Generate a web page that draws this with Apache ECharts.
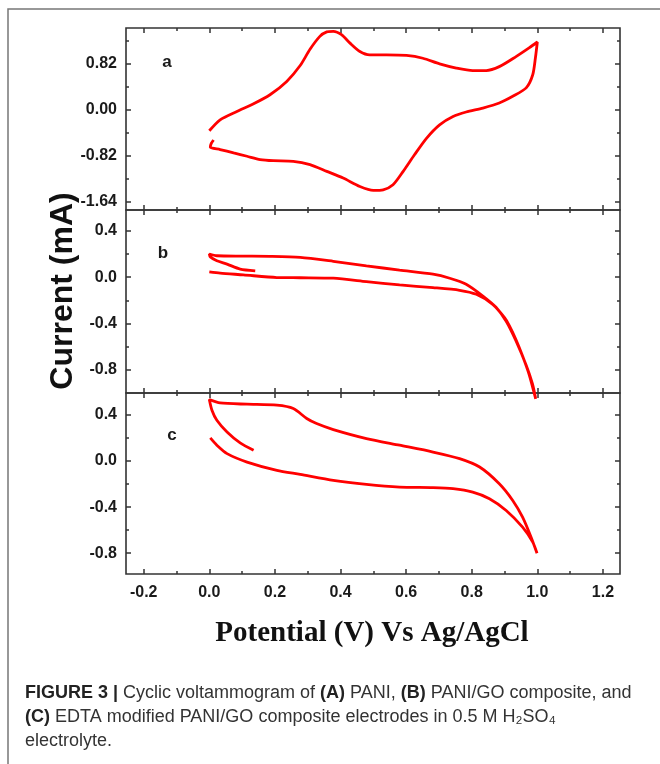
<!DOCTYPE html>
<html>
<head>
<meta charset="utf-8">
<script src="https://cdn.jsdelivr.net/npm/echarts@6/dist/echarts.min.js"></script>
<style>
html,body{margin:0;padding:0;background:#fff;}
#chart{width:660px;height:764px;}
</style>
</head>
<body>
<div id="chart"></div>
<script>
// ---------- data ----------
const xTicks = [-0.2, 0.0, 0.2, 0.4, 0.6, 0.8, 1.0, 1.2];
const xMinor = [-0.1, 0.1, 0.3, 0.5, 0.7, 0.9, 1.1];
const xRange = [-0.254, 1.252];

const yTicksA = [-1.64, -0.82, 0.0, 0.82];
const yMinorA = [-1.23, -0.41, 0.41, 1.23];
const yRangeA = [-1.79, 1.46];

const yTicksB = [-0.8, -0.4, 0.0, 0.4];
const yMinorB = [-0.6, -0.2, 0.2];
const yRangeB = [-1.0, 0.58];

const yTicksC = [-0.8, -0.4, 0.0, 0.4];
const yMinorC = [-0.6, -0.2, 0.2];
const yRangeC = [-0.98, 0.59];

// Panel a: PANI
const potA = [0, 0.033, 0.084, 0.135, 0.185, 0.236, 0.277, 0.307, 0.337, 0.358, 0.378, 0.403, 0.429, 0.459, 0.489, 0.54, 0.601, 0.651, 0.702, 0.753, 0.803, 0.844, 0.884, 0.935, 0.976, 1.0,
  0.994, 0.986, 0.966, 0.925, 0.884, 0.834, 0.783, 0.743, 0.702, 0.662, 0.626, 0.591, 0.56, 0.53, 0.5, 0.459, 0.408, 0.358, 0.307, 0.256, 0.195, 0.155, 0.115, 0.074, 0.033, 0.003, 0.006, 0.013];
const curA = [-0.375, -0.179, -0.03, 0.107, 0.268, 0.506, 0.79, 1.08, 1.31, 1.39, 1.40, 1.34, 1.19, 1.04, 0.98, 0.98, 0.97, 0.92, 0.82, 0.745, 0.70, 0.70, 0.77, 0.95, 1.11, 1.21,
  0.92, 0.625, 0.39, 0.24, 0.12, 0.03, -0.04, -0.12, -0.27, -0.51, -0.80, -1.10, -1.34, -1.43, -1.44, -1.37, -1.22, -1.10, -0.98, -0.92, -0.91, -0.89, -0.83, -0.77, -0.71, -0.67, -0.60, -0.54];

// Panel b: PANI/GO
const potB = [0.14, 0.094, 0.054, 0.023, 0.003, 0, 0.023, 0.1, 0.185, 0.277, 0.378, 0.479, 0.58, 0.682, 0.733, 0.783, 0.834, 0.874, 0.905, 0.935, 0.966, 0.985, 0.995,
  0.975, 0.955, 0.935, 0.915, 0.9, 0.864, 0.814, 0.763, 0.682, 0.58, 0.479, 0.378, 0.277, 0.206, 0.104, 0.033, 0];
const curB = [0.055, 0.07, 0.113, 0.142, 0.175, 0.2, 0.185, 0.182, 0.18, 0.171, 0.137, 0.098, 0.061, 0.026, -0.009, -0.061, -0.163, -0.26, -0.38, -0.55, -0.76, -0.92, -1.05,
  -0.84, -0.68, -0.54, -0.42, -0.35, -0.235, -0.148, -0.113, -0.09, -0.067, -0.038, -0.009, -0.005, -0.003, 0.02, 0.035, 0.046];

// Panel c: EDTA modified PANI/GO
const potC = [0.135, 0.094, 0.054, 0.023, 0.008, 0, 0.033, 0.115, 0.206, 0.256, 0.297, 0.327, 0.378, 0.479, 0.58, 0.682, 0.763, 0.824, 0.884, 0.925, 0.955, 0.981, 0.999,
  0.986, 0.955, 0.905, 0.854, 0.803, 0.743, 0.682, 0.58, 0.479, 0.378, 0.277, 0.206, 0.115, 0.054, 0.023, 0.003];
const curC = [0.093, 0.157, 0.252, 0.354, 0.441, 0.534, 0.504, 0.493, 0.484, 0.455, 0.369, 0.325, 0.273, 0.195, 0.137, 0.078, 0.021, -0.052, -0.197, -0.342, -0.487, -0.661, -0.80,
  -0.704, -0.574, -0.429, -0.327, -0.27, -0.24, -0.231, -0.226, -0.203, -0.168, -0.116, -0.081, -0.009, 0.064, 0.137, 0.2];

const panelLabels = ['a', 'b', 'c'];
const yTitle = 'Current (mA)';
const xTitle = 'Potential (V) Vs Ag/AgCl';

// ---------- chart ----------
const zip = (xs, ys) => xs.map((x, i) => [x, ys[i]]);
const AXIS_COLOR = '#333';
const LABEL_FONT = {color: '#1a1a1a', fontFamily: '"Liberation Sans", Arial, sans-serif', fontWeight: 'bold', fontSize: 16};

const grids = [
  {left: 126, top: 28, width: 494, height: 182},
  {left: 126, top: 210, width: 494, height: 183},
  {left: 126, top: 393, width: 494, height: 181}
].map(g => Object.assign({show: true, borderColor: AXIS_COLOR, borderWidth: 1.6, backgroundColor: 'transparent'}, g));

const panels = [
  {yT: yTicksA, yM: yMinorA, yR: yRangeA, dec: 2, data: zip(potA, curA), clip: true},
  {yT: yTicksB, yM: yMinorB, yR: yRangeB, dec: 1, data: zip(potB, curB), clip: false},
  {yT: yTicksC, yM: yMinorC, yR: yRangeC, dec: 1, data: zip(potC, curC), clip: true}
];

const xAxes = [], yAxes = [], series = [];

function mkAxis(g, pos, ticks, len, range, labelOn, dec, margin) {
  return {
    gridIndex: g, type: 'value', position: pos, min: range[0], max: range[1],
    axisLine: {show: false, onZero: false},
    splitLine: {show: false},
    axisTick: {show: true, inside: true, length: len, customValues: ticks, lineStyle: {color: AXIS_COLOR, width: 1.5}},
    axisLabel: Object.assign({show: labelOn, customValues: ticks, margin: margin, formatter: v => Number(v).toFixed(dec)}, LABEL_FONT)
  };
}

panels.forEach((p, g) => {
  const xMain = xAxes.length;
  xAxes.push(mkAxis(g, 'bottom', xTicks, 5, xRange, g === 2, 1, 11));
  xAxes.push(mkAxis(g, 'bottom', xMinor, 3, xRange, false, 1, 11));
  xAxes.push(mkAxis(g, 'top', xTicks, 5, xRange, false, 1, 11));
  xAxes.push(mkAxis(g, 'top', xMinor, 3, xRange, false, 1, 11));
  const yMain = yAxes.length;
  yAxes.push(mkAxis(g, 'left', p.yT, 5, p.yR, true, p.dec, 9));
  yAxes.push(mkAxis(g, 'left', p.yM, 3, p.yR, false, p.dec, 9));
  yAxes.push(mkAxis(g, 'right', p.yT, 5, p.yR, false, p.dec, 9));
  yAxes.push(mkAxis(g, 'right', p.yM, 3, p.yR, false, p.dec, 9));
  series.push({
    type: 'line', xAxisIndex: xMain, yAxisIndex: yMain, data: p.data,
    showSymbol: false, smooth: 0.25, clip: p.clip,
    lineStyle: {color: '#ff0000', width: 2.8}, z: 3
  });
});

const capFont = '"Liberation Sans", Arial, sans-serif';
const graphic = [
  {type: 'rect', z: -10, shape: {x: 8, y: 9, width: 720, height: 820}, style: {fill: 'none', stroke: '#777', lineWidth: 1.5}},
  {type: 'text', x: 167, y: 62, style: {text: panelLabels[0], font: 'bold 17px "Liberation Sans", Arial', fill: '#1a1a1a', align: 'center', verticalAlign: 'middle'}},
  {type: 'text', x: 163, y: 253, style: {text: panelLabels[1], font: 'bold 17px "Liberation Sans", Arial', fill: '#1a1a1a', align: 'center', verticalAlign: 'middle'}},
  {type: 'text', x: 172, y: 435, style: {text: panelLabels[2], font: 'bold 17px "Liberation Sans", Arial', fill: '#1a1a1a', align: 'center', verticalAlign: 'middle'}},
  {type: 'text', x: 63, y: 291, rotation: Math.PI / 2, style: {text: yTitle, font: 'bold 32px "Liberation Sans", Arial', fill: '#111', align: 'center', verticalAlign: 'middle'}},
  {type: 'text', x: 372, y: 634, style: {text: xTitle, font: 'bold 29px "Liberation Serif", "Times New Roman", serif', fill: '#111', align: 'center', verticalAlign: 'middle'}},
  {type: 'text', x: 25, y: 681, style: {
    text: '{b|FIGURE 3 |} Cyclic voltammogram of {b|(A)} PANI, {b|(B)} PANI/GO composite, and\n{b|(C)} EDTA modified PANI/GO composite electrodes in 0.5 M H₂SO₄\nelectrolyte.',
    fontFamily: capFont, fontSize: 18, fill: '#333', lineHeight: 24, align: 'left', verticalAlign: 'top',
    rich: {b: {fontFamily: capFont, fontSize: 18, fontWeight: 'bold', fill: '#222', lineHeight: 24}}
  }}
];

const chart = echarts.init(document.getElementById('chart'), null, {renderer: 'canvas'});
chart.setOption({
  animation: false,
  backgroundColor: '#fff',
  grid: grids,
  xAxis: xAxes,
  yAxis: yAxes,
  series: series,
  graphic: graphic
});
</script>
</body>
</html>
